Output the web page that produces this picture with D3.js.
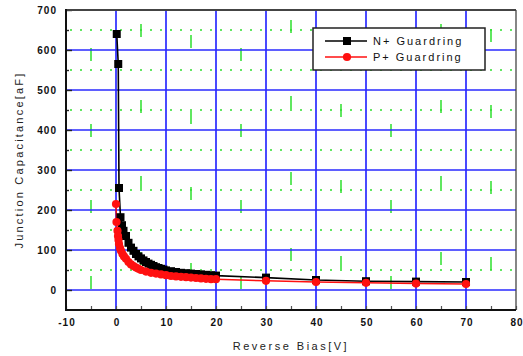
<!DOCTYPE html>
<html>
<head>
<meta charset="utf-8">
<script src="https://cdn.jsdelivr.net/npm/d3@7"></script>
<style>
  html, body { margin: 0; padding: 0; background: #fff; }
  svg { display: block; font-family: "Liberation Sans", Arial, sans-serif; }
</style>
</head>
<body>
<svg id="chart" width="523" height="356"></svg>
<script>
// Reverse bias (V) and junction capacitance (aF) for the two guardring types
const nBias = [0.15, 0.45, 0.6, 0.9, 1.2, 1.5, 2, 2.5, 3, 3.5, 4, 4.5, 5, 5.5, 6, 6.5, 7, 7.5, 8, 8.5, 9, 9.5, 10, 11, 12, 13, 14, 15, 16, 17, 18, 19, 20, 30, 40, 50, 60, 70];
const nCap  = [640, 565, 255, 182, 162, 148, 135, 118, 106, 98, 90, 84, 79, 74, 70, 66, 63, 60, 57, 55, 53, 51, 49, 47, 45, 43, 42, 41, 40, 39, 38, 37, 36, 31, 25, 22, 21, 20];

const pBias = [0, 0.1, 0.3, 0.4, 0.5, 0.6, 0.8, 1.0, 1.3, 1.6, 2, 2.5, 3, 3.5, 4, 4.5, 5, 6, 7, 8, 9, 10, 11, 12, 13, 14, 15, 16, 17, 18, 19, 20, 30, 40, 50, 60, 70];
const pCap  = [215, 170, 148, 135, 125, 115, 105, 98, 90, 84, 78, 70, 64, 60, 56, 53, 50, 46, 43, 41, 39, 37, 35, 34, 33, 32, 31, 30, 29, 28, 27, 27, 23, 20, 18, 16, 15];

const xTicks = [-10, 0, 10, 20, 30, 40, 50, 60, 70, 80];
const yTicks = [0, 100, 200, 300, 400, 500, 600, 700];
const seriesNames = ["N+ Guardring", "P+ Guardring"];

const svg = d3.select("#chart");
const L = 66, R = 516, T = 10, B = 310;
const x = d3.scaleLinear().domain([-10, 80]).range([L, R]);
const y = d3.scaleLinear().domain([-50, 700]).range([B, T]);

const grid = svg.append("g");

// green dotted lines half-way between the major horizontal lines
const halfY = d3.range(50, 700, 100);
grid.selectAll("line.hdot").data(halfY).join("line")
  .attr("x1", L).attr("x2", R)
  .attr("y1", d => y(d)).attr("y2", d => y(d))
  .attr("stroke", "#2ee02e").attr("stroke-width", 1.6)
  .attr("stroke-dasharray", "2,8").attr("stroke-dashoffset", -4);

// sparse green dashes on the half-way vertical lines
const halfX = d3.range(-5, 80, 10);
const dashPhase = [38, 14, 25, 38, 10, 18, 38, 14, 19];
grid.selectAll("line.vdash").data(halfX).join("line")
  .attr("x1", d => x(d)).attr("x2", d => x(d))
  .attr("y1", T).attr("y2", B)
  .attr("stroke", "#2ee02e").attr("stroke-width", 1.5)
  .attr("stroke-dasharray", "13,63")
  .attr("stroke-dashoffset", (d, i) => 76 - dashPhase[i]);

// blue major grid
grid.selectAll("line.vmaj").data(xTicks.slice(1, -1)).join("line")
  .attr("x1", d => x(d)).attr("x2", d => x(d))
  .attr("y1", T).attr("y2", B)
  .attr("stroke", "#2a2aff").attr("stroke-width", 1.7);
grid.selectAll("line.hmaj").data(yTicks.slice(0, -1)).join("line")
  .attr("x1", L).attr("x2", R)
  .attr("y1", d => y(d)).attr("y2", d => y(d))
  .attr("stroke", "#2a2aff").attr("stroke-width", 1.7);

// axes with inward ticks
const xAxis = d3.axisBottom(x)
  .tickValues(d3.range(-10, 81, 5))
  .tickFormat(d => d % 10 === 0 ? d : "")
  .tickSize(-4).tickPadding(9);
const gx = svg.append("g").attr("transform", `translate(0,${B})`).call(xAxis);
gx.select(".domain").remove();
gx.selectAll(".tick line").attr("stroke", "#555").attr("stroke-width", 1.2);
gx.selectAll("text").attr("font-size", 10).attr("font-weight", "bold")
  .attr("letter-spacing", 1).attr("dx", 0.5).attr("fill", "#111")
  .attr("font-family", "'Liberation Sans', Arial, sans-serif");

const yAxis = d3.axisLeft(y)
  .tickValues(d3.range(0, 701, 50))
  .tickFormat(d => d % 100 === 0 ? d : "")
  .tickSize(0).tickPadding(9);
const gy = svg.append("g").attr("transform", `translate(${L},0)`).call(yAxis);
gy.select(".domain").remove();
gy.selectAll(".tick line")
  .attr("x2", d => d % 100 === 0 ? 6 : 3)
  .attr("stroke", "#222").attr("stroke-width", 1.4);
gy.selectAll("text").attr("font-size", 10).attr("font-weight", "bold")
  .attr("letter-spacing", 1).attr("fill", "#111")
  .attr("font-family", "'Liberation Sans', Arial, sans-serif");

// frame
svg.append("line").attr("x1", L).attr("x2", R).attr("y1", T).attr("y2", T)
  .attr("stroke", "#444").attr("stroke-width", 2);
svg.append("line").attr("x1", R).attr("x2", R).attr("y1", T).attr("y2", B)
  .attr("stroke", "#444").attr("stroke-width", 1.3);
svg.append("line").attr("x1", L).attr("x2", L).attr("y1", T - 1).attr("y2", B + 1)
  .attr("stroke", "#111").attr("stroke-width", 2);
svg.append("line").attr("x1", L).attr("x2", R).attr("y1", B).attr("y2", B)
  .attr("stroke", "#111").attr("stroke-width", 2);

// series
const line = d3.line().x(d => x(d[0])).y(d => y(d[1]));
const nData = nBias.map((v, i) => [v, nCap[i]]);
const pData = pBias.map((v, i) => [v, pCap[i]]);

svg.append("path").datum(nData).attr("d", line)
  .attr("fill", "none").attr("stroke", "#000").attr("stroke-width", 1.6);
svg.append("path").datum(pData).attr("d", line)
  .attr("fill", "none").attr("stroke", "#ff1010").attr("stroke-width", 1.5);

const sq = 8;
svg.append("g").selectAll("rect").data(nData).join("rect")
  .attr("x", d => x(d[0]) - sq / 2).attr("y", d => y(d[1]) - sq / 2)
  .attr("width", sq).attr("height", sq).attr("fill", "#000");
svg.append("g").selectAll("circle").data(pData).join("circle")
  .attr("cx", d => x(d[0])).attr("cy", d => y(d[1])).attr("r", 4.1)
  .attr("fill", "#ff1010");

// legend
const lg = svg.append("g");
lg.append("rect").attr("x", 313).attr("y", 28).attr("width", 172).attr("height", 42)
  .attr("fill", "#fff").attr("stroke", "#222").attr("stroke-width", 1.5);
const rows = [
  { name: seriesNames[0], color: "#000", sym: "rect" },
  { name: seriesNames[1], color: "#ff1010", sym: "circle" }
];
rows.forEach((r, i) => {
  const cy = 41 + i * 16;
  lg.append("line").attr("x1", 325).attr("x2", 367).attr("y1", cy).attr("y2", cy)
    .attr("stroke", r.color).attr("stroke-width", 1.3);
  if (r.sym === "rect") {
    lg.append("rect").attr("x", 343).attr("y", cy - 4).attr("width", 8).attr("height", 8).attr("fill", r.color);
  } else {
    lg.append("circle").attr("cx", 347).attr("cy", cy).attr("r", 4.1).attr("fill", r.color);
  }
  lg.append("text").attr("x", 373).attr("y", cy + 4).text(r.name)
    .attr("font-size", 11).attr("letter-spacing", 2).attr("fill", "#111");
});

// axis titles
svg.append("text").attr("x", (L + R) / 2).attr("y", 350).attr("text-anchor", "middle")
  .attr("font-size", 11).attr("letter-spacing", 2.5).attr("fill", "#222")
  .text("Reverse Bias[V]");
svg.append("text").attr("transform", `translate(23,${(T + B) / 2}) rotate(-90)`)
  .attr("text-anchor", "middle")
  .attr("font-size", 11).attr("letter-spacing", 2.2).attr("fill", "#222")
  .text("Junction Capacitance[aF]");
</script>
</body>
</html>
